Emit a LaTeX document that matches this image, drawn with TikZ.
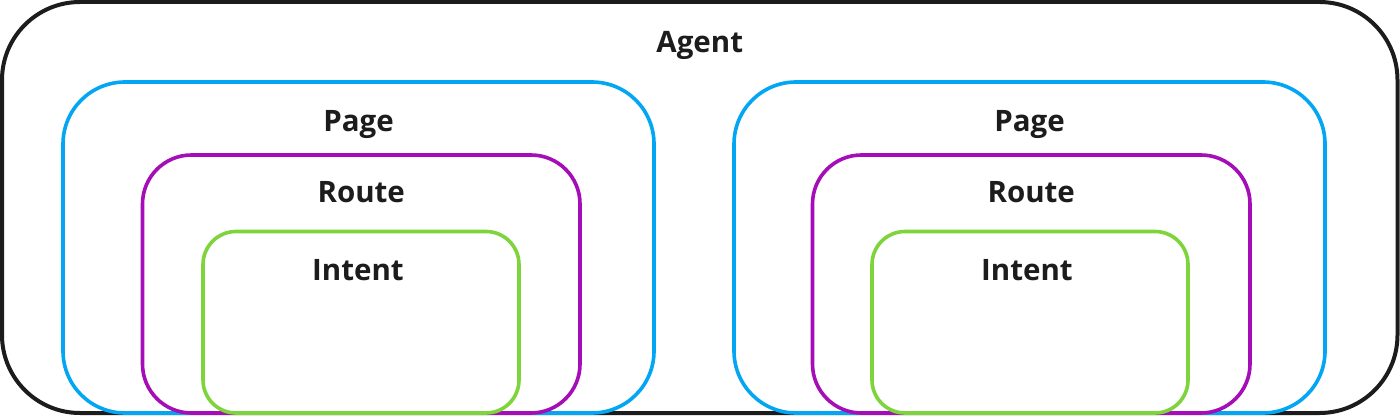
\documentclass[tikz,border=0pt]{standalone}
\usepackage{fontspec}
\setmainfont{Open Sans}
\usetikzlibrary{positioning}

\definecolor{agentblack}{HTML}{1C1C1C}
\definecolor{pageblue}{HTML}{03A6F2}
\definecolor{routepurple}{HTML}{A40DB8}
\definecolor{intentgreen}{HTML}{7ED43B}

\begin{document}
\begin{tikzpicture}[
    x=1pt, y=-1pt,
    box/.style={rectangle, inner sep=0pt, outer sep=0pt, anchor=north west},
    agent/.style={box, draw=agentblack, line width=4pt, rounded corners=78pt,
                  minimum width=1395.5pt, minimum height=411pt},
    page/.style={box, draw=pageblue, line width=3.6pt, rounded corners=62pt,
                 minimum width=591pt, minimum height=331pt},
    route/.style={box, draw=routepurple, line width=3.6pt, rounded corners=49pt,
                  minimum width=437.5pt, minimum height=258pt},
    intent/.style={box, draw=intentgreen, line width=3.6pt, rounded corners=33pt,
                   minimum width=316pt, minimum height=181.5pt},
    title/.style={anchor=base, inner sep=0pt, text=agentblack,
                  font=\bfseries\fontsize{29.5}{35}\selectfont}
]

\useasboundingbox (0,0) rectangle (1400,417);

% outer box
\node[agent] (agent) at (2,2) {};
\node[title] (agent_label) at ([yshift=-51pt]agent.north) {Agent};

% left stack
\node[page]   (page_left)   at (63,82) {};
\node[route]  (route_left)  at (142.5,155) {};
\node[intent] (intent_left) at (203,231.5) {};

% right stack
\node[page]   (page_right)   at (734,82) {};
\node[route]  (route_right)  at (812.5,155) {};
\node[intent] (intent_right) at (872,231.5) {};

\node[title] (page_left_label)    at ([yshift=-49.5pt]page_left.north)  {Page};
\node[title] (route_left_label)   at ([yshift=-47pt]route_left.north)   {Route};
\node[title] (intent_left_label)  at ([yshift=-48.5pt, xshift=-3pt]intent_left.north) {Intent};

\node[title] (page_right_label)   at ([yshift=-49.5pt]page_right.north) {Page};
\node[title] (route_right_label)  at ([yshift=-47pt]route_right.north)  {Route};
\node[title] (intent_right_label) at ([yshift=-48.5pt, xshift=-3pt]intent_right.north) {Intent};

\end{tikzpicture}
\end{document}
